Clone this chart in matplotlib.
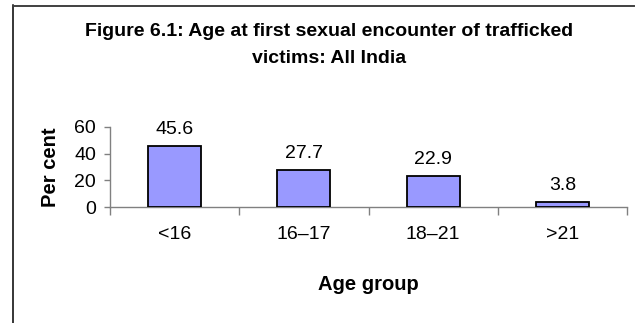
import matplotlib.pyplot as plt
from matplotlib.lines import Line2D

age_groups = ['<16', '16–17', '18–21', '>21']
per_cent = [45.6, 27.7, 22.9, 3.8]
y_ticks = [0, 20, 40, 60]

plt.rcParams['font.family'] = ['Liberation Sans', 'DejaVu Sans']

fig = plt.figure(figsize=(6.36, 3.23), dpi=100)
W, H = 636, 323

# chart frame, open to the right and bottom
fig.add_artist(Line2D([13 / W, 13 / W], [0, 1 - 5 / H], transform=fig.transFigure,
                      color='black', linewidth=1.1, zorder=5))
fig.add_artist(Line2D([12.5 / W, 634 / W], [1 - 6 / H, 1 - 6 / H], transform=fig.transFigure,
                      color='#404040', linewidth=1.4, zorder=5))

ax = fig.add_axes([0.173, 0.359, 0.813, 0.248])

x = range(len(age_groups))
ax.bar(x, per_cent, width=0.41, color='#9999FF', edgecolor='black', linewidth=1.3, zorder=3)

for i, v in enumerate(per_cent):
    ax.annotate(f'{v:.1f}', (i, v), xytext=(0, 6), textcoords='offset points',
                ha='center', va='bottom', fontsize=14)

ax.set_xlim(-0.5, len(age_groups) - 0.5)
ax.set_ylim(0, 60)
ax.set_yticks(y_ticks)
ax.tick_params(axis='y', labelsize=14, length=4, width=1, color='#808080', pad=6)

# category labels centred, tick marks on the category boundaries
ax.set_xticks(list(x))
ax.set_xticklabels(age_groups, fontsize=14)
ax.tick_params(axis='x', which='major', length=0, pad=14)
ax.set_xticks([i - 0.5 for i in range(len(age_groups) + 1)], minor=True)
ax.tick_params(axis='x', which='minor', length=6, width=1, color='#808080', direction='out')

for side in ['top', 'right']:
    ax.spines[side].set_visible(False)
for side in ['left', 'bottom']:
    ax.spines[side].set_color('#808080')
    ax.spines[side].set_linewidth(1)

ax.set_ylabel('Per cent', fontsize=14.5, fontweight='bold', labelpad=10)
ax.set_xlabel('Age group', fontsize=14.5, fontweight='bold', labelpad=23)

fig.text(0.517, 1 - 45 / 323, 'Figure 6.1: Age at first sexual encounter of trafficked\nvictims: All India',
         ha='center', va='center', fontsize=14, fontweight='bold', linespacing=1.8)

fig.savefig('out.png', dpi=100)
